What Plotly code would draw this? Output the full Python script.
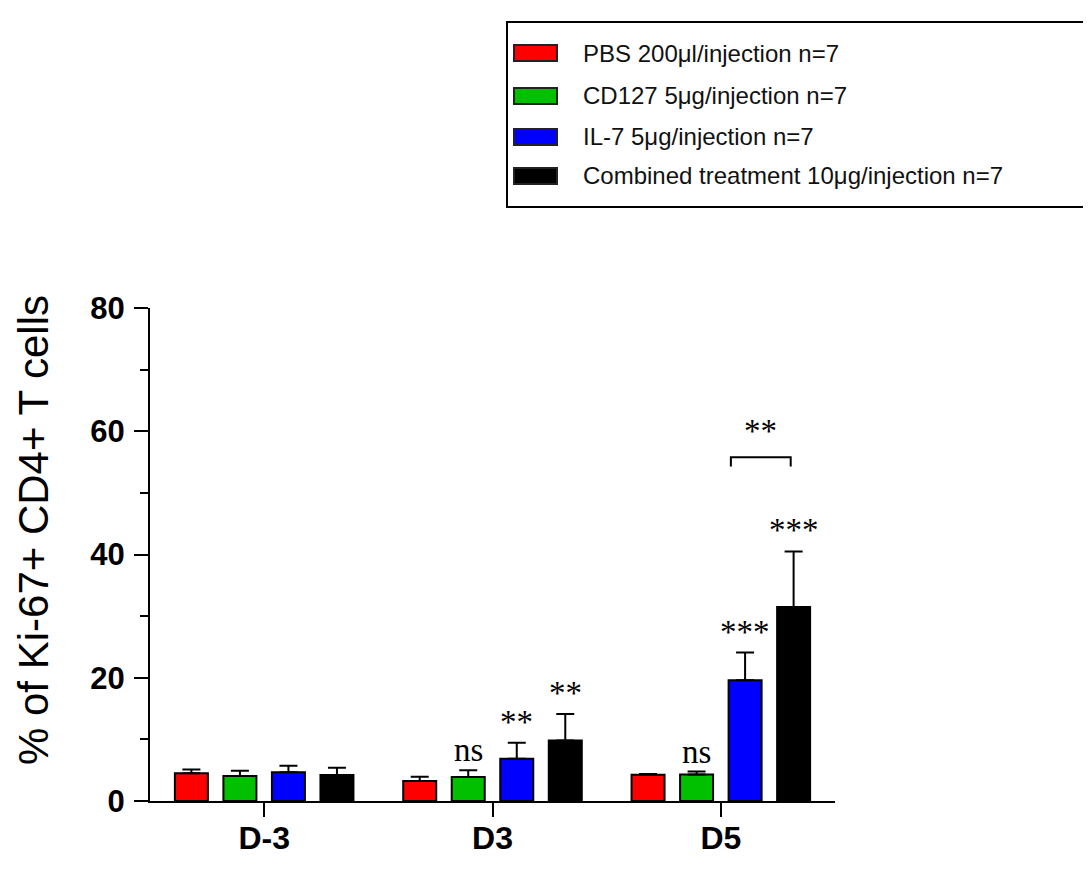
import plotly.graph_objects as go

# ---------------- data ----------------
days = ["D-3", "D3", "D5"]
series_names = [
    "PBS 200\u03bcl/injection n=7",
    "CD127 5\u03bcg/injection n=7",
    "IL-7 5\u03bcg/injection n=7",
    "Combined treatment 10\u03bcg/injection n=7",
]
series_colors = ["#ff0000", "#00c000", "#0000ff", "#000000"]
pbs_mean = [4.5, 3.25, 4.27]
pbs_sem = [0.6, 0.7, 0.13]
cd127_mean = [4.06, 3.9, 4.3]
cd127_sem = [0.84, 1.1, 0.5]
il7_mean = [4.66, 6.87, 19.6]
il7_sem = [1.04, 2.59, 4.5]
comb_mean = [4.2, 9.8, 31.5]
comb_sem = [1.2, 4.3, 9.0]
means = [pbs_mean, cd127_mean, il7_mean, comb_mean]
sems = [pbs_sem, cd127_sem, il7_sem, comb_sem]

# significance labels: (day index, series index, text)
sig_labels = [(1, 1, "ns"), (1, 2, "**"), (1, 3, "**"),
              (2, 1, "ns"), (2, 2, "***"), (2, 3, "***")]
bracket_label = "**"

y_title = "% of Ki-67+ CD4+ T cells"

# ---------------- layout geometry ----------------
OFF = 8  # page body margin of the browser
W, H = 1091 - OFF, 888 - OFF
ML, MR, MT, MB = 150 - OFF, 256, 308 - OFF, 87
BARGAP = 0.15
BARGROUPGAP = 0.32
slot = (1 - BARGAP) / 4
PW = W - ML - MR
PH = H - MT - MB


def px2paper(px, py):
    """reference-screen pixel -> paper coordinates"""
    return (px - OFF - ML) / PW, (H - MB - (py - OFF)) / PH


fig = go.Figure()
for i in range(4):
    fig.add_trace(go.Bar(
        x=days, y=means[i], name=series_names[i],
        marker=dict(color=series_colors[i], line=dict(color="black", width=2)),
        error_y=dict(type="data", symmetric=False, array=sems[i],
                     arrayminus=[0] * len(days), color="black",
                     thickness=2, width=9),
        showlegend=False,
    ))

# significance annotations
for d, s, txt in sig_labels:
    xpos = d + (s - 1.5) * slot
    top = means[s][d] + sems[s][d]
    pad = 3.2 if txt == "ns" else 3.4
    fig.add_annotation(x=xpos, y=top + pad, xref="x", yref="y", text=txt,
                       showarrow=False, yanchor="middle",
                       font=dict(family="Liberation Serif", size=33, color="black"))

# bracket between IL-7 and combined at D5
bl, br = 2.044, 2.306
by0, by1 = 54.3, 55.8
fig.add_shape(type="path", xref="x", yref="y",
              path=f"M {bl},{by0} L {bl},{by1} L {br},{by1} L {br},{by0}",
              line=dict(color="black", width=2))
fig.add_annotation(x=(bl + br) / 2, y=by1 + 4.2, xref="x", yref="y",
                   text=bracket_label, showarrow=False, yanchor="middle",
                   font=dict(family="Liberation Serif", size=33, color="black"))

# y axis title (placed as rotated text)
tx, ty = px2paper(33, 530)
fig.add_annotation(x=tx, y=ty, xref="paper", yref="paper", text=y_title,
                   showarrow=False, textangle=-90, xanchor="center", yanchor="middle",
                   font=dict(family="Liberation Sans", size=42, color="black"))

# custom legend
x0, y0 = px2paper(507, 22)
x1, y1 = px2paper(1086, 207)
fig.add_shape(type="rect", xref="paper", yref="paper", x0=x0, y0=y1, x1=x1, y1=y0,
              line=dict(color="black", width=2), fillcolor="white")
row_y = [53, 96, 137, 176]
for i in range(4):
    sx0, sy0 = px2paper(514, row_y[i] - 8)
    sx1, sy1 = px2paper(557, row_y[i] + 8)
    fig.add_shape(type="rect", xref="paper", yref="paper", x0=sx0, y0=sy1, x1=sx1, y1=sy0,
                  line=dict(color="#222222", width=2), fillcolor=series_colors[i])
    lx, ly = px2paper(581, row_y[i])
    fig.add_annotation(x=lx, y=ly, xref="paper", yref="paper", text=series_names[i],
                       showarrow=False, xanchor="left", yanchor="middle",
                       font=dict(family="Liberation Sans", size=24, color="#111111"))

fig.update_layout(
    width=W, height=H,
    margin=dict(l=ML, r=MR, t=MT, b=MB, pad=0),
    paper_bgcolor="white", plot_bgcolor="white",
    barmode="group", bargap=BARGAP, bargroupgap=BARGROUPGAP,
    font=dict(family="Liberation Sans", color="black"),
)
fig.update_xaxes(
    range=[-0.5, 2.5], showline=True, linecolor="black", linewidth=2,
    ticks="outside", ticklen=14, tickwidth=2, tickcolor="black",
    tickfont=dict(family="Liberation Sans", size=32, color="black", weight="bold"),
    showgrid=False, zeroline=False, ticklabelstandoff=-6,
)
fig.update_yaxes(
    range=[0, 80], dtick=20, showline=True, linecolor="black", linewidth=2,
    ticks="outside", ticklen=14, tickwidth=2, tickcolor="black",
    minor=dict(dtick=10, ticks="outside", ticklen=8, tickwidth=2, tickcolor="black"),
    tickfont=dict(family="Liberation Sans", size=31, color="black", weight="bold"),
    showgrid=False, zeroline=False, ticklabelstandoff=3,
)

fig.write_html("out.html")
